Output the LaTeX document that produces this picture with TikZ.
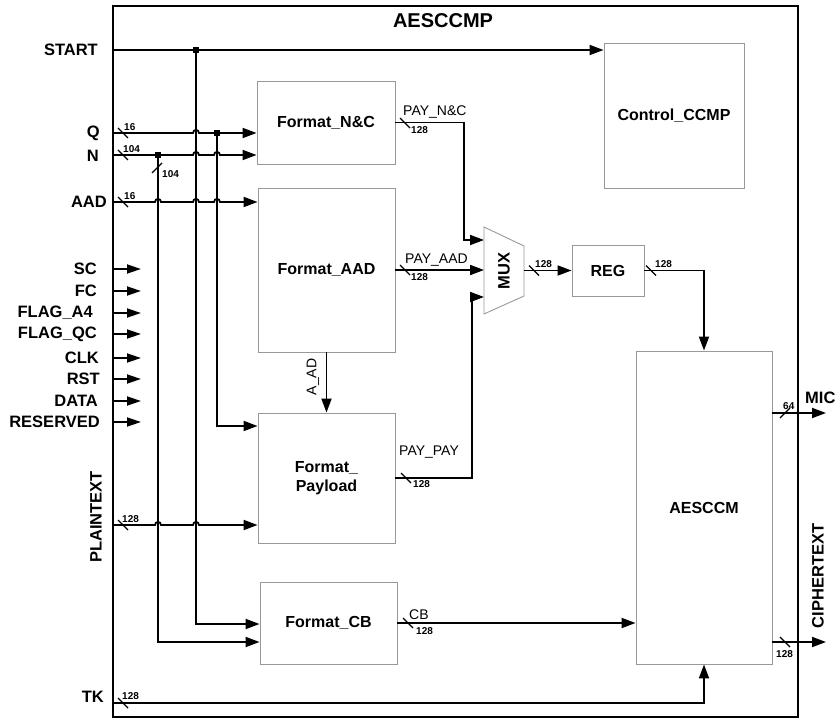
\documentclass[tikz,border=0pt]{standalone}
\usepackage{fontspec}
\setmainfont{Liberation Sans}
\usetikzlibrary{arrows.meta}
\begin{document}
\begin{tikzpicture}[x=1pt,y=-1pt,
 wire/.style={line width=1.8pt},
 arr/.style={wire,-{Triangle[length=14pt,width=10pt]}},
 blk/.style={draw=black!40,line width=0.9pt,rectangle,inner sep=0pt,align=center,font=\bfseries\fontsize{16}{19}\selectfont},
 outerbox/.style={draw,line width=2.2pt,rectangle,inner sep=0pt},
 sig/.style={inner sep=0pt,font=\bfseries\fontsize{16.5}{19}\selectfont},
 ttl/.style={inner sep=0pt,font=\bfseries\fontsize{20}{22}\selectfont},
 bw/.style={inner sep=0pt,font=\bfseries\fontsize{10}{11}\selectfont},
 lbl/.style={inner sep=0pt,font=\fontsize{14}{16}\selectfont},
 slash/.style={line width=1.3pt},
 jdot/.style={fill=black,draw=none,rectangle,minimum size=6pt,inner sep=0pt}
]
\useasboundingbox (0,0) rectangle (835,719);

% outer box and title
\node[outerbox,minimum width=685,minimum height=711] (top) at (455.5,361.5) {};
\node[ttl] (title) at (443,21) {AESCCMP};

% blocks
\node[blk,minimum width=138,minimum height=83] (fnc) at (326,122.5) {Format\_N\&C};
\node[blk,minimum width=137,minimum height=164] (faad) at (326.5,270) {Format\_AAD};
\node[blk,minimum width=137,minimum height=130] (fpay) at (326.5,478) {Format\_\\Payload};
\node[blk,minimum width=137,minimum height=82] (fcb) at (328.5,623) {Format\_CB};
\node[blk,minimum width=140,minimum height=145] (ctrl) at (674,115.5) {Control\_CCMP};
\node[blk,minimum width=72,minimum height=51] (reg) at (608,270.5) {REG};
\node[blk,minimum width=136,minimum height=313] (aes) at (704,507.5) {AESCCM};

% MUX
\draw[draw=black!40,line width=0.9pt] (484,227) -- (524,246) -- (524,296) -- (484,314) -- cycle;
\node[sig,rotate=90] (muxl) at (504,271) {MUX};
\coordinate (muxa) at (484,240);
\coordinate (muxb) at (484,270);
\coordinate (muxc) at (484,297);
\coordinate (muxo) at (524,270.5);

% input coordinates
\coordinate (startin) at (113,50);
\coordinate (qin) at (113,133);
\coordinate (nin) at (113,155);
\coordinate (aadin) at (113,202);
\coordinate (ptin) at (113,525);
\coordinate (tkin) at (113,703);
\coordinate (jstart) at (196,50);
\coordinate (jq) at (217,133);
\coordinate (jn) at (158,155);

% input labels
\node[sig,anchor=east] (lstart) at (98,50) {START};
\node[sig,anchor=east] (lq) at (100,133) {Q};
\node[sig,anchor=east] (ln) at (99,156) {N};
\node[sig,anchor=east] (laad) at (107,202) {AAD};
\node[sig,anchor=east] (ltk) at (104,697) {TK};
\node[sig,rotate=90] (lpt) at (96,517) {PLAINTEXT};

% side signals
\foreach \nm/\yy/\xr/\tx in {sc/269/97/SC, fc/291/97/FC, fa/313/93/FLAG\_A4, fq/334/97/FLAG\_QC, clk/358/99/CLK, rst/379/100/RST, dat/401/98/DATA, res/422/100/RESERVED}{
  \node[sig,anchor=east] (l\nm) at (\xr,\yy) {\tx};
  \coordinate (\nm in) at (113,\yy);
  \coordinate (\nm out) at (141,\yy);
  \draw[wire,-{Triangle[length=14pt,width=9pt]}] (\nm in) -- (\nm out);
}

% START
\draw[arr] (startin) -- (startin -| ctrl.west);
\draw[arr] (jstart) -- (196,624) -- (fcb.west |- 0,624);
\node[jdot] (dstart) at (jstart) {};

% Q
\draw[arr] (qin) -- (193,133) .. controls (193,129) and (199,129) .. (199,133) -- (fnc.west |- qin);
\draw[arr] (jq) -- (217,426) -- (fpay.west |- 0,426);
\node[jdot] (dq) at (jq) {};

% N
\draw[arr] (nin) -- (193,155) .. controls (193,151) and (199,151) .. (199,155)
  -- (214,155) .. controls (214,151) and (220,151) .. (220,155) -- (fnc.west |- nin);
\draw[arr] (jn) -- (158,642) -- (fcb.west |- 0,642);
\node[jdot] (dn) at (jn) {};

% AAD
\draw[arr] (aadin) -- (155,202) .. controls (155,198) and (161,198) .. (161,202)
  -- (193,202) .. controls (193,198) and (199,198) .. (199,202)
  -- (214,202) .. controls (214,198) and (220,198) .. (220,202) -- (faad.west |- aadin);

% PLAINTEXT
\draw[arr] (ptin) -- (155,525) .. controls (155,521) and (161,521) .. (161,525)
  -- (193,525) .. controls (193,521) and (199,521) .. (199,525) -- (fpay.west |- ptin);

% TK
\draw[arr] (tkin) -| (aes.south);

% A_AD
\draw[arr] (faad.south) -- (fpay.north);
\node[lbl,rotate=90] (laad2) at (313,377) {A\_AD};

% to MUX
\draw[arr] (fnc.east) -- (464,122.5) -- (464,240) -- (muxa);
\draw[arr] (faad.east) -- (muxb);
\draw[arr] (fpay.east) -- (472,478) -- (472,297) -- (muxc);
\draw[arr] (muxo) -- (reg.west);
\draw[arr] (reg.east) -| (aes.north);
\draw[arr] (fcb.east) -- (aes.west |- fcb.east);

% outputs
\coordinate (micout) at (826,413);
\coordinate (ctout) at (826,642);
\draw[arr] (aes.east |- micout) -- (micout);
\draw[arr] (aes.east |- ctout) -- (ctout);
\node[sig,anchor=west] (lmic) at (805,398) {MIC};
\node[sig,rotate=90] (lct) at (818,576) {CIPHERTEXT};

% signal names on buses
\node[lbl,anchor=west] (lpnc) at (403,112) {PAY\_N\&C};
\node[lbl,anchor=west] (lpaad) at (405,260) {PAY\_AAD};
\node[lbl,anchor=west] (lppay) at (399,452) {PAY\_PAY};
\node[lbl,anchor=west] (lcb) at (409,615) {CB};

% bus width slashes
\foreach \xx/\yy in {123/133, 123/155, 123/202, 123/525, 123/703, 405/123, 405/270, 534/270.5, 651/270.5, 406/478, 408/623, 785/642}{
  \draw[slash] (\xx-5,\yy-5) -- (\xx+5,\yy+5);
}
\draw[slash] (780,418) -- (790,408);
\draw[slash] (152,173) -- (162,163);

% bus width labels
\node[bw,anchor=west] (w1) at (124,127) {16};
\node[bw,anchor=west] (w2) at (123,149) {104};
\node[bw,anchor=west] (w3) at (124,196) {16};
\node[bw,anchor=west] (w4) at (162,174) {104};
\node[bw,anchor=west] (w5) at (122,519) {128};
\node[bw,anchor=west] (w6) at (122,696) {128};
\node[bw,anchor=west] (w7) at (411,130) {128};
\node[bw,anchor=west] (w8) at (411,277) {128};
\node[bw,anchor=west] (w9) at (535,264) {128};
\node[bw,anchor=west] (w10) at (655,264) {128};
\node[bw,anchor=west] (w11) at (413,484) {128};
\node[bw,anchor=west] (w12) at (416,631) {128};
\node[bw,anchor=west] (w13) at (783,406) {64};
\node[bw,anchor=west] (w14) at (776,654) {128};
\end{tikzpicture}
\end{document}
